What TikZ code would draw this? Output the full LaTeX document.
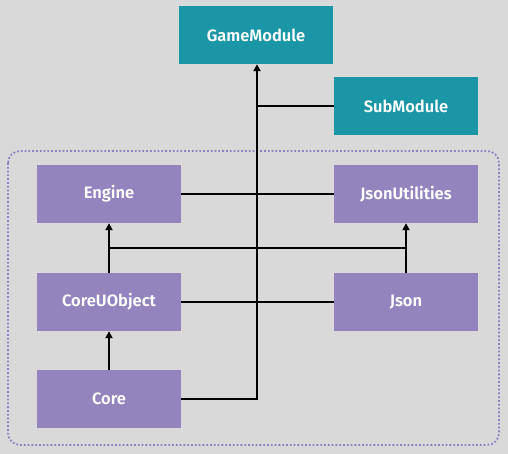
\documentclass[tikz,border=0pt]{standalone}
\usepackage{fontspec}
\setmainfont{Fira Sans}[BoldFont={Fira Sans SemiBold}]
\usetikzlibrary{arrows.meta}
\definecolor{bg}{HTML}{D9D9D9}
\definecolor{teal}{HTML}{1A96A6}
\definecolor{purp}{HTML}{9484BE}
\definecolor{dotc}{HTML}{8E80C2}
\tikzset{
  modbox/.style={minimum width=144pt, minimum height=58pt, inner sep=0pt, text=white, font=\fontsize{16.5}{20}\selectfont\bfseries},
  tealbox/.style={modbox, fill=teal},
  purpbox/.style={modbox, fill=purp},
  conn/.style={line width=2.2pt, black},
  arr/.style={conn, -{Triangle[length=7pt,width=7pt]}}
}
\begin{document}
\begin{tikzpicture}[x=1pt,y=-1pt]
\fill[bg] (0,0) rectangle (508,454);
\useasboundingbox (0,0) rectangle (508,454);
\draw[dotc, line width=1.8pt, dotted, rounded corners=12pt] (8,151) rectangle (499,445);
\node[tealbox, minimum width=154pt] (gm) at (256,35) {GameModule};
\node[tealbox] (sub) at (406,106) {SubModule};
\node[purpbox] (eng) at (109,194) {Engine};
\node[purpbox] (ju) at (406,194) {JsonUtilities};
\node[purpbox] (cuo) at (109,302) {CoreUObject};
\node[purpbox] (json) at (406,302) {Json};
\node[purpbox] (core) at (109,399) {Core};
\coordinate (tb) at (257,399);
\coordinate (mid) at (257,248);
\draw[arr] (core.east) -- (tb) -- (gm.south -| tb);
\draw[conn] (sub.west) -- (sub.west -| tb);
\draw[conn] (eng.east) -- (ju.west);
\draw[conn] (cuo.east) -- (json.west);
\draw[arr] (cuo.north) -- (eng.south);
\draw[arr] (json.north) -- (ju.south);
\draw[conn] (mid -| eng.south) -- (mid -| ju.south);
\draw[arr] (core.north) -- (cuo.south);
\end{tikzpicture}
\end{document}
